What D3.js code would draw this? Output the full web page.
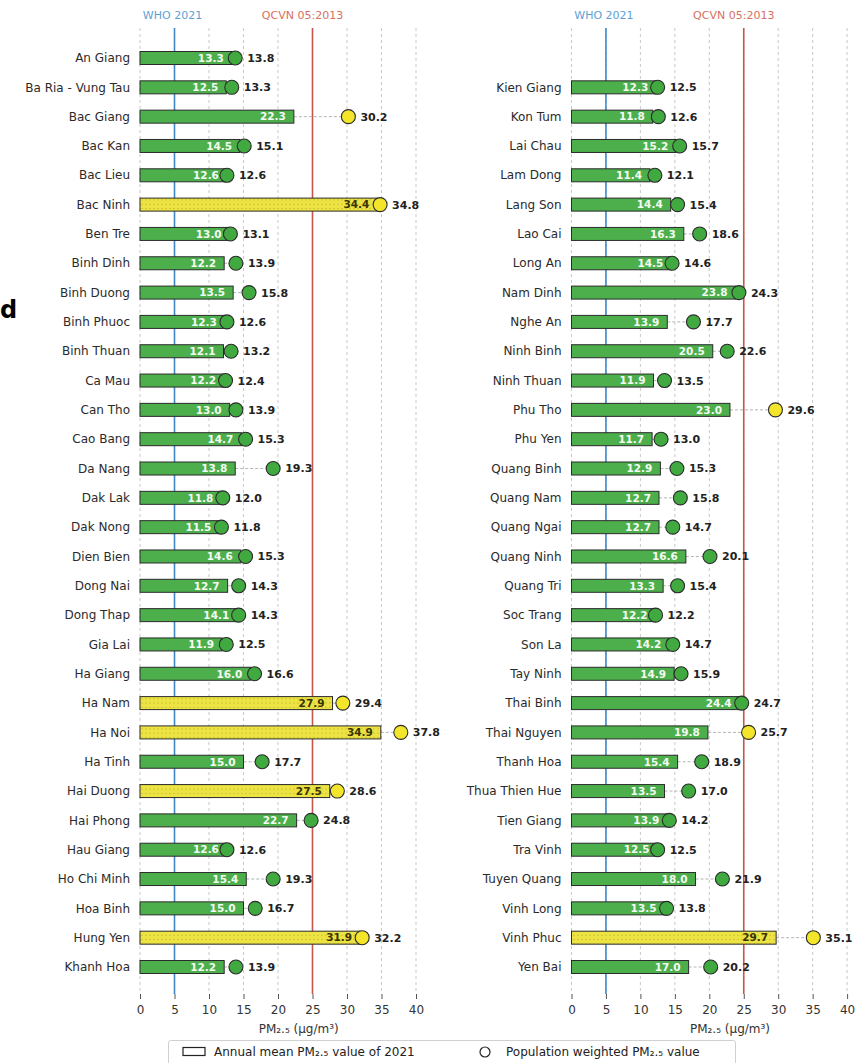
<!DOCTYPE html>
<html>
<head>
<meta charset="utf-8">
<script src="https://cdn.jsdelivr.net/npm/d3@7/dist/d3.min.js"></script>
<style>
  html, body { margin: 0; padding: 0; background: #fff; }
  svg { display: block; font-family: "DejaVu Sans", sans-serif; }
</style>
</head>
<body>
<svg id="chart" width="859" height="1063"></svg>
<script>
// Provinces A–K (left panel) and K–Y (right panel)
const leftProvinces = ["An Giang","Ba Ria - Vung Tau","Bac Giang","Bac Kan","Bac Lieu","Bac Ninh","Ben Tre","Binh Dinh","Binh Duong","Binh Phuoc","Binh Thuan","Ca Mau","Can Tho","Cao Bang","Da Nang","Dak Lak","Dak Nong","Dien Bien","Dong Nai","Dong Thap","Gia Lai","Ha Giang","Ha Nam","Ha Noi","Ha Tinh","Hai Duong","Hai Phong","Hau Giang","Ho Chi Minh","Hoa Binh","Hung Yen","Khanh Hoa"];
const leftAnnual = [13.3,12.5,22.3,14.5,12.6,34.4,13.0,12.2,13.5,12.3,12.1,12.2,13.0,14.7,13.8,11.8,11.5,14.6,12.7,14.1,11.9,16.0,27.9,34.9,15.0,27.5,22.7,12.6,15.4,15.0,31.9,12.2];
const leftWeighted = [13.8,13.3,30.2,15.1,12.6,34.8,13.1,13.9,15.8,12.6,13.2,12.4,13.9,15.3,19.3,12.0,11.8,15.3,14.3,14.3,12.5,16.6,29.4,37.8,17.7,28.6,24.8,12.6,19.3,16.7,32.2,13.9];

const rightProvinces = ["Kien Giang","Kon Tum","Lai Chau","Lam Dong","Lang Son","Lao Cai","Long An","Nam Dinh","Nghe An","Ninh Binh","Ninh Thuan","Phu Tho","Phu Yen","Quang Binh","Quang Nam","Quang Ngai","Quang Ninh","Quang Tri","Soc Trang","Son La","Tay Ninh","Thai Binh","Thai Nguyen","Thanh Hoa","Thua Thien Hue","Tien Giang","Tra Vinh","Tuyen Quang","Vinh Long","Vinh Phuc","Yen Bai"];
const rightAnnual = [12.3,11.8,15.2,11.4,14.4,16.3,14.5,23.8,13.9,20.5,11.9,23.0,11.7,12.9,12.7,12.7,16.6,13.3,12.2,14.2,14.9,24.4,19.8,15.4,13.5,13.9,12.5,18.0,13.5,29.7,17.0];
const rightWeighted = [12.5,12.6,15.7,12.1,15.4,18.6,14.6,24.3,17.7,22.6,13.5,29.6,13.0,15.3,15.8,14.7,20.1,15.4,12.2,14.7,15.9,24.7,25.7,18.9,17.0,14.2,12.5,21.9,13.8,35.1,20.2];

// Reference thresholds and axis ticks
const thresholds = [
  { name: "WHO 2021", value: 5, line: "#3f88c5", text: "#5e9fd6", dx: -2 },
  { name: "QCVN 05:2013", value: 25, line: "#c4574a", text: "#d8705f", dx: -10 }
];
const tickValues = [0, 5, 10, 15, 20, 25, 30, 35, 40];
const axisTitle = "PM\u2082.\u2085 (\u03bcg/m\u00b3)";
const legendLabels = ["Annual mean PM\u2082.\u2085 value of 2021", "Population weighted PM\u2082.\u2085 value"];

const GREEN = "#4caf4c", GREEN_DOT = "#40a940";
const YELLOW = "#ede443", YELLOW_DOT = "#f2e52a";
const limit = 25;

const svg = d3.select("#chart");

// dotted hatch for bars above the national limit
const defs = svg.append("defs");
const pat = defs.append("pattern").attr("id", "dots")
  .attr("patternUnits", "userSpaceOnUse").attr("width", 4).attr("height", 4.3);
pat.append("rect").attr("width", 4).attr("height", 4.3).attr("fill", YELLOW);
pat.append("circle").attr("cx", 2).attr("cy", 2.2).attr("r", 0.65).attr("fill", "#b9ae2c");

const plotTop = 28, plotBottom = 994;
const barH = 13, dotR = 7;

function panel(names, annual, weighted, x0, pxPerUnit, padFirst) {
  const domain = padFirst ? ["__blank__"].concat(names) : names;
  const y = d3.scalePoint().domain(domain).range([58, 967]).padding(0);
  const x = d3.scaleLinear().domain([0, 46]).range([x0, x0 + 46 * pxPerUnit]);
  const g = svg.append("g");

  // vertical dashed grid
  g.append("g").selectAll("line").data(tickValues).join("line")
    .attr("x1", d => x(d)).attr("x2", d => x(d))
    .attr("y1", plotTop).attr("y2", plotBottom)
    .attr("stroke", "#c9c9c9").attr("stroke-width", 1).attr("stroke-dasharray", "3,3");

  // threshold lines and labels
  thresholds.forEach(t => {
    g.append("line").attr("x1", x(t.value)).attr("x2", x(t.value))
      .attr("y1", plotTop).attr("y2", plotBottom)
      .attr("stroke", t.line).attr("stroke-width", 1.6);
    g.append("text").attr("x", x(t.value) + t.dx).attr("y", 19)
      .attr("text-anchor", "middle").attr("font-size", 11)
      .attr("fill", t.text).text(t.name);
  });

  // x axis
  const ax = g.append("g").attr("transform", `translate(0,${plotBottom})`)
    .call(d3.axisBottom(x).tickValues(tickValues).tickSize(5).tickPadding(6).tickFormat(d3.format("d")));
  ax.select(".domain").remove();
  ax.selectAll(".tick line").attr("stroke", "#555");
  ax.selectAll(".tick text").attr("font-size", 12).attr("fill", "#333")
    .attr("font-family", "DejaVu Sans, sans-serif");
  g.append("text").attr("x", x(23)).attr("y", 1033)
    .attr("text-anchor", "middle").attr("font-size", 12).attr("fill", "#333").text(axisTitle);

  const rows = names.map((n, i) => ({ name: n, a: annual[i], w: weighted[i] }));

  // category labels
  g.append("g").selectAll("text").data(rows).join("text")
    .attr("x", x(0) - 10).attr("y", d => y(d.name)).attr("dy", "0.35em")
    .attr("text-anchor", "end").attr("font-size", 12).attr("fill", "#2a2a2a")
    .text(d => d.name);

  // connectors from bar end to weighted value
  g.append("g").selectAll("line").data(rows).join("line")
    .attr("x1", d => x(d.a)).attr("x2", d => x(d.w))
    .attr("y1", d => y(d.name)).attr("y2", d => y(d.name))
    .attr("stroke", "#b5b5b5").attr("stroke-width", 1).attr("stroke-dasharray", "3,2");

  // annual mean bars
  g.append("g").selectAll("rect").data(rows).join("rect")
    .attr("x", x(0)).attr("y", d => y(d.name) - barH / 2)
    .attr("width", d => x(d.a) - x(0)).attr("height", barH)
    .attr("fill", d => d.a > limit ? "url(#dots)" : GREEN)
    .attr("stroke", "#2b2b2b").attr("stroke-width", 1);

  // in-bar values
  g.append("g").selectAll("text").data(rows).join("text")
    .attr("x", d => x(d.a) - 8).attr("y", d => y(d.name)).attr("dy", "0.36em")
    .attr("text-anchor", "end").attr("font-size", 10.5).attr("font-weight", "bold")
    .attr("fill", d => d.a > limit ? "#3a3500" : "#f4fbf2")
    .text(d => d.a.toFixed(1));

  // population weighted markers
  g.append("g").selectAll("circle").data(rows).join("circle")
    .attr("cx", d => x(d.w)).attr("cy", d => y(d.name)).attr("r", dotR)
    .attr("fill", d => d.w > limit ? YELLOW_DOT : GREEN_DOT)
    .attr("stroke", "#2b2b2b").attr("stroke-width", 1.1);

  g.append("g").selectAll("text").data(rows).join("text")
    .attr("x", d => x(d.w) + 12).attr("y", d => y(d.name)).attr("dy", "0.36em")
    .attr("font-size", 11).attr("font-weight", "bold").attr("fill", "#222")
    .text(d => d.w.toFixed(1));
}

panel(leftProvinces, leftAnnual, leftWeighted, 140, 6.9, false);
panel(rightProvinces, rightAnnual, rightWeighted, 571.5, 6.89, true);

// panel letter
svg.append("text").attr("x", 0).attr("y", 318)
  .attr("font-size", 24).attr("font-weight", "bold").attr("fill", "#000").text("d");

// legend
const lg = svg.append("g");
lg.append("rect").attr("x", 168.5).attr("y", 1040.5).attr("width", 567).attr("height", 24)
  .attr("rx", 2).attr("fill", "#fff").attr("stroke", "#d0d0d0");
lg.append("rect").attr("x", 183).attr("y", 1047.5).attr("width", 22).attr("height", 8)
  .attr("fill", "#fff").attr("stroke", "#222").attr("stroke-width", 1.2);
lg.append("text").attr("x", 214).attr("y", 1052).attr("dy", "0.35em")
  .attr("font-size", 12).attr("fill", "#222").text(legendLabels[0]);
lg.append("circle").attr("cx", 485).attr("cy", 1052).attr("r", 5)
  .attr("fill", "#fff").attr("stroke", "#222").attr("stroke-width", 1.2);
lg.append("text").attr("x", 506).attr("y", 1052).attr("dy", "0.35em")
  .attr("font-size", 12).attr("fill", "#222").text(legendLabels[1]);
</script>
</body>
</html>
